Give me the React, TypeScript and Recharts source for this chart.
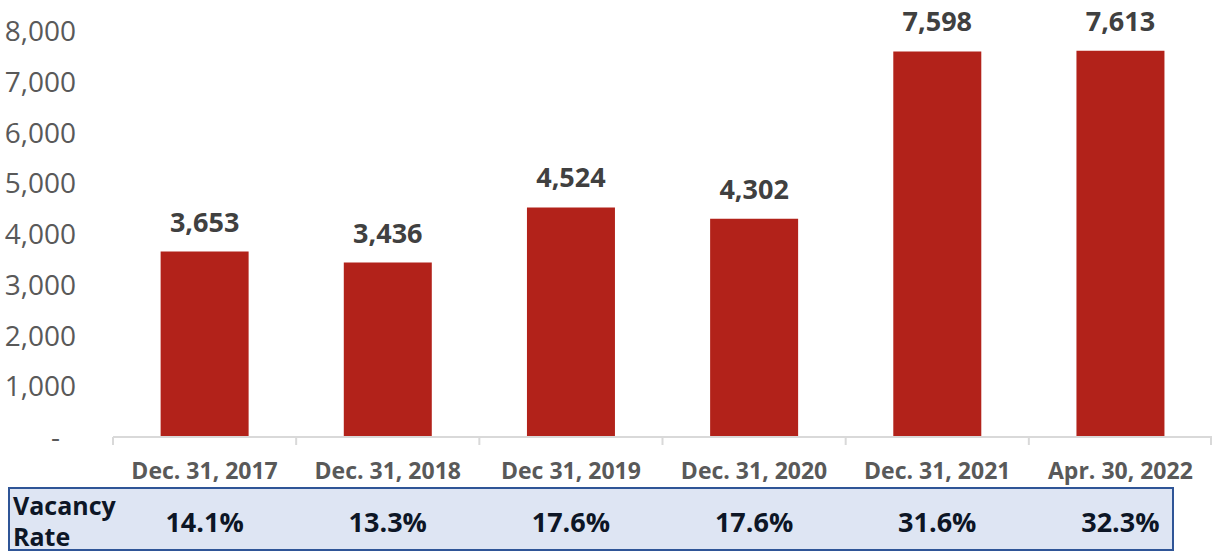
import React from "react";
import { BarChart, Bar, XAxis, YAxis, LabelList } from "recharts";

const categories = [
  "Dec. 31, 2017",
  "Dec. 31, 2018",
  "Dec 31, 2019",
  "Dec. 31, 2020",
  "Dec. 31, 2021",
  "Apr. 30, 2022",
];
const supply = [3653, 3436, 4524, 4302, 7598, 7613];
const vacancy = ["14.1%", "13.3%", "17.6%", "17.6%", "31.6%", "32.3%"];
const yTicks = [0, 1000, 2000, 3000, 4000, 5000, 6000, 7000, 8000];

const data = categories.map((name, i) => ({ name, value: supply[i], vacancy: vacancy[i] }));

const FONT = "'Open Sans', sans-serif";

function YTick(props: any) {
  const { x, y, payload } = props;
  const v = payload.value as number;
  return (
    <text
      x={v === 0 ? x - 16 : x}
      y={y}
      dy="0.36em"
      textAnchor="end"
      fill="#595959"
      fontSize={28}
      fontFamily={FONT}
    >
      {v === 0 ? "-" : v.toLocaleString("en-US")}
    </text>
  );
}

function XTick(props: any) {
  const { x, y, payload, index } = props;
  const half = payload.offset || 91.6;
  return (
    <g>
      <line x1={x - half} x2={x - half} y1={y} y2={y + 8} stroke="#d9d9d9" strokeWidth={2} />
      {index === categories.length - 1 && (
        <line x1={x + half - 1} x2={x + half - 1} y1={y} y2={y + 8} stroke="#d9d9d9" strokeWidth={2} />
      )}
      <text
        x={x}
        y={y + 42}
        textAnchor="middle"
        fill="#595959"
        fontSize={23}
        fontWeight={700}
        fontFamily={FONT}
      >
        {payload.value}
      </text>
      <text
        x={x}
        y={y + 95}
        textAnchor="middle"
        fill="#0d1626"
        fontSize={27}
        fontWeight={700}
        fontFamily={FONT}
      >
        {vacancy[index]}
      </text>
    </g>
  );
}

export default function App() {
  return (
    <div style={{ position: "absolute", left: 0, top: 0, width: 1212, height: 552, background: "#fff" }}>
      <div
        style={{
          position: "absolute",
          left: 8,
          top: 487,
          width: 1166,
          height: 64,
          boxSizing: "border-box",
          border: "2px solid #2F5597",
          background: "#DEE5F3",
        }}
      >
        <div
          style={{
            position: "absolute",
            left: 3,
            top: 1,
            fontFamily: FONT,
            fontWeight: 700,
            fontSize: 25,
            lineHeight: "31px",
            color: "#0d1626",
          }}
        >
          <div style={{ height: 31 }}>Vacancy</div>
          <div style={{ height: 31 }}>Rate</div>
        </div>
      </div>
      <div style={{ position: "absolute", left: 0, top: 0 }}>
        <BarChart
          width={1212}
          height={552}
          data={data}
          margin={{ top: 31, right: 0, left: 0, bottom: 0 }}
          barCategoryGap="26%"
        >
          <XAxis
            dataKey="name"
            height={115}
            tickSize={0}
            tickMargin={0}
            tickLine={false}
            axisLine={{ stroke: "#d9d9d9", strokeWidth: 2 }}
            tick={<XTick />}
            interval={0}
          />
          <YAxis
            width={113}
            domain={[0, 8000]}
            ticks={yTicks}
            axisLine={false}
            tickLine={false}
            tickSize={0}
            tickMargin={37}
            tick={<YTick />}
            interval={0}
          />
          <Bar dataKey="value" fill="#B2221A" isAnimationActive={false}>
            <LabelList
              dataKey="value"
              position="top"
              offset={20}
              formatter={(v: any) => Number(v).toLocaleString("en-US")}
              fill="#404040"
              fontSize={27}
              fontWeight={700}
              fontFamily={FONT}
            />
          </Bar>
        </BarChart>
      </div>
    </div>
  );
}
